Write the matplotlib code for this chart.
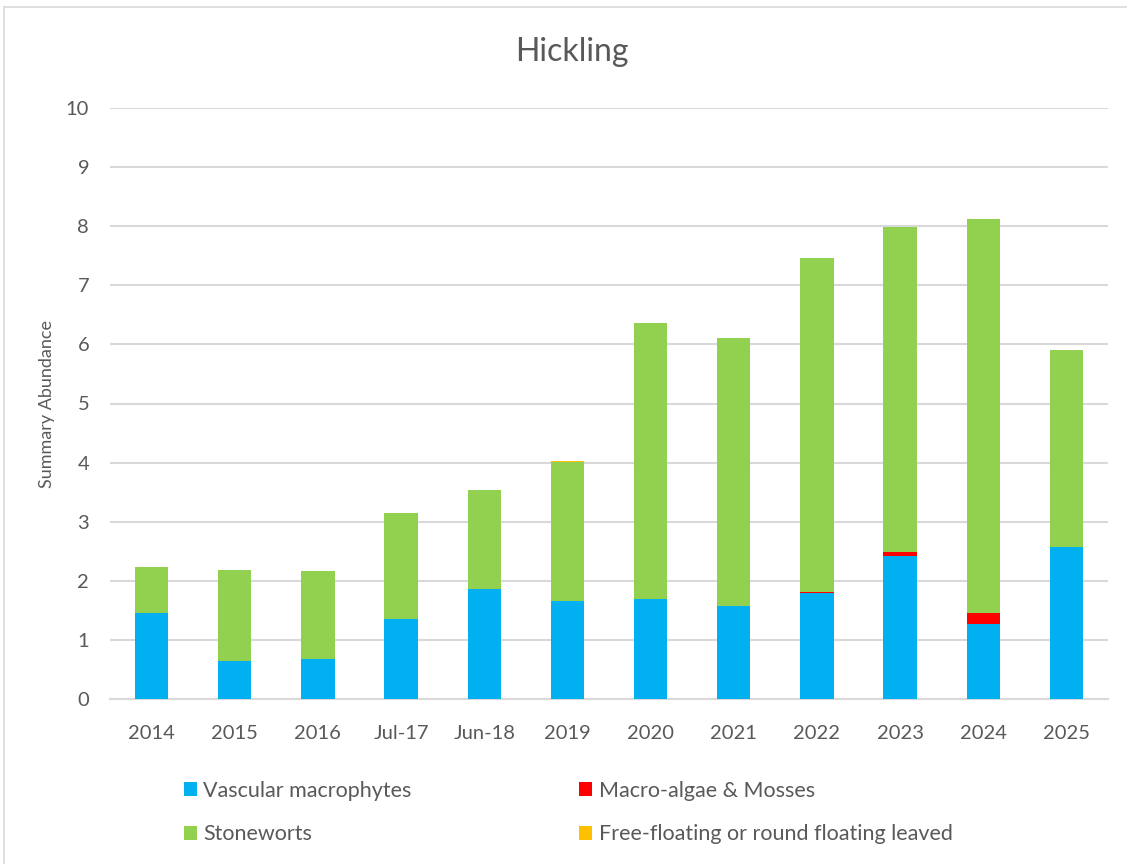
import numpy as np
import matplotlib.pyplot as plt
from matplotlib.patches import Patch, Rectangle

plt.rcParams['font.family'] = ['Lato', 'DejaVu Sans']

# survey occasions and summary abundance per plant group
surveys = ["2014", "2015", "2016", "Jul-17", "Jun-18", "2019",
           "2020", "2021", "2022", "2023", "2024", "2025"]
vascular = [1.46, 0.65, 0.68, 1.36, 1.86, 1.66, 1.70, 1.57, 1.79, 2.42, 1.27, 2.58]
macro_algae = [0, 0, 0, 0, 0, 0, 0, 0, 0.02, 0.06, 0.19, 0]
stoneworts = [0.77, 1.53, 1.49, 1.79, 1.68, 2.35, 4.66, 4.54, 5.65, 5.51, 6.67, 3.33]
free_floating = [0, 0, 0, 0, 0, 0.02, 0, 0, 0, 0, 0, 0]

series = [
    ("Vascular macrophytes", vascular, "#00B0F0"),
    ("Macro-algae & Mosses", macro_algae, "#FF0000"),
    ("Stoneworts", stoneworts, "#92D050"),
    ("Free-floating or round floating leaved", free_floating, "#FFC000"),
]

grey_text = "#595959"
grid_col = "#D9D9D9"

fig = plt.figure(figsize=(11.27, 8.64), dpi=100)
ax = fig.add_axes([110 / 1127, 1 - 699 / 864, 998 / 1127, 591 / 864])

x = np.arange(len(surveys))
bottom = np.zeros(len(surveys))
for name, vals, col in series:
    vals = np.array(vals)
    ax.bar(x, vals, width=0.4, bottom=bottom, color=col, label=name, zorder=3)
    bottom += vals

ax.set_xlim(-0.5, len(surveys) - 0.5)
ax.set_ylim(0, 10)
ax.set_yticks(range(0, 11))
ax.set_xticks(x)
ax.set_xticklabels(surveys)
ax.tick_params(axis="both", length=0, labelsize=14.5, colors=grey_text)
ax.tick_params(axis="x", pad=19)
ax.tick_params(axis="y", pad=15)
ax.grid(axis="y", color=grid_col, linewidth=1.5, zorder=0)
for side in ["top", "right", "left"]:
    ax.spines[side].set_visible(False)
ax.spines["bottom"].set_color(grid_col)
ax.spines["bottom"].set_linewidth(1.5)

ax.set_ylabel("Summary Abundance", fontsize=13, color=grey_text, labelpad=8)
fig.text(572 / 1127, 1 - 52 / 864, "Hickling", ha="center", va="center",
         fontsize=23, color=grey_text)

# legend laid out in two rows of two
order = [0, 2, 1, 3]
handles = [Patch(facecolor=series[i][2], label=series[i][0]) for i in order]
fig.legend(handles=handles, loc="upper left",
           bbox_to_anchor=(173 / 1127, 1 - 770 / 864), ncol=2, frameon=False,
           borderpad=0, fontsize=15.5, labelcolor=grey_text,
           handlelength=0.6, handleheight=0.6, handletextpad=0.3,
           columnspacing=7.8, labelspacing=1.1)

# thin frame round the chart
fig.patches.append(Rectangle((4 / 1127, -0.01), 1.02, 1 - 7 / 864 + 0.01,
                             transform=fig.transFigure, fill=False,
                             edgecolor="#D9D9D9", linewidth=1.2))

fig.savefig("out.png", dpi=100)
